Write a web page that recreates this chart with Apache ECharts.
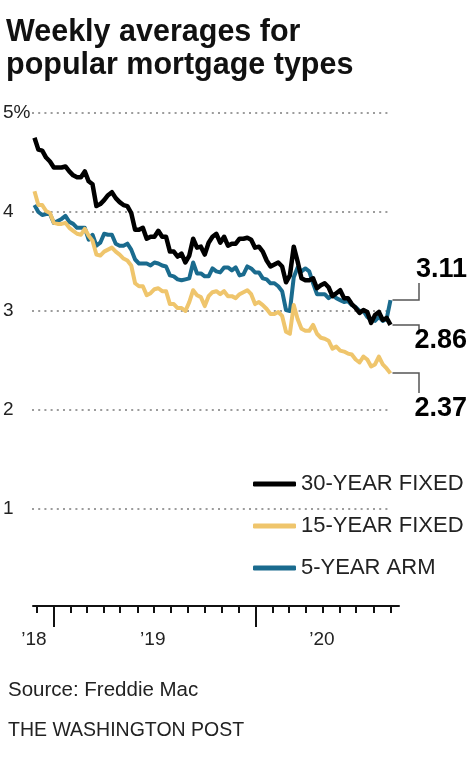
<!DOCTYPE html>
<html>
<head>
<meta charset="utf-8">
<style>
  html, body { margin: 0; padding: 0; background: #fff; }
  #chart { width: 474px; height: 772px; }
</style>
<script src="https://cdn.jsdelivr.net/npm/echarts@6/dist/echarts.min.js"></script>
</head>
<body>
<div id="chart"></div>
<script>
// ---- Data (Freddie Mac weekly averages, Dec 6 2018 – Sep 10 2020) ----
const firstWeek = '2018-12-06';
const seriesNames = ['30-YEAR FIXED', '15-YEAR FIXED', '5-YEAR ARM'];

const fixed30 = [
  4.75, 4.63, 4.62, 4.55,
  4.51, 4.45, 4.45, 4.45, 4.46, 4.41, 4.37, 4.35, 4.35, 4.41, 4.31, 4.28, 4.06,
  4.08, 4.12, 4.17, 4.20, 4.14, 4.10, 4.07, 4.06, 3.99, 3.82, 3.82, 3.84, 3.73,
  3.75, 3.75, 3.81, 3.75, 3.75, 3.60, 3.60, 3.55, 3.58, 3.49, 3.56, 3.73, 3.64,
  3.65, 3.57, 3.69, 3.75, 3.78, 3.69, 3.75, 3.66, 3.68, 3.68, 3.73, 3.73, 3.74,
  3.72, 3.64, 3.65, 3.60, 3.51, 3.45, 3.47, 3.49, 3.45, 3.29, 3.36, 3.65, 3.50,
  3.33, 3.31, 3.31, 3.33, 3.23, 3.26, 3.28, 3.24, 3.15, 3.18, 3.21, 3.13, 3.13,
  3.07, 3.03, 2.98, 3.01, 2.99, 2.88, 2.96, 2.99, 2.91, 2.93, 2.86
];
const fixed15 = [
  4.21, 4.07, 4.07, 4.01,
  3.99, 3.89, 3.88, 3.88, 3.89, 3.84, 3.81, 3.78, 3.77, 3.83, 3.76, 3.71, 3.57,
  3.56, 3.60, 3.62, 3.64, 3.60, 3.57, 3.53, 3.51, 3.46, 3.28, 3.25, 3.25, 3.16,
  3.18, 3.22, 3.23, 3.20, 3.20, 3.07, 3.07, 3.03, 3.03, 3.00, 3.09, 3.21, 3.16,
  3.14, 3.05, 3.15, 3.19, 3.20, 3.17, 3.20, 3.15, 3.15, 3.13, 3.17, 3.19, 3.21,
  3.17, 3.07, 3.09, 3.06, 3.02, 2.97, 2.97, 2.99, 2.95, 2.79, 2.77, 3.06, 2.92,
  2.82, 2.80, 2.80, 2.86, 2.77, 2.73, 2.72, 2.70, 2.62, 2.64, 2.60, 2.59, 2.57,
  2.56, 2.51, 2.48, 2.54, 2.51, 2.44, 2.46, 2.54, 2.46, 2.42, 2.37
];
const arm5 = [
  4.07, 4.00, 3.97, 3.98,
  3.98, 3.89, 3.91, 3.93, 3.96, 3.90, 3.88, 3.84, 3.84, 3.84, 3.72, 3.77, 3.66,
  3.69, 3.78, 3.77, 3.77, 3.68, 3.66, 3.66, 3.68, 3.62, 3.52, 3.48, 3.48, 3.48,
  3.46, 3.49, 3.48, 3.46, 3.45, 3.36, 3.35, 3.32, 3.31, 3.32, 3.33, 3.49, 3.38,
  3.38, 3.35, 3.35, 3.43, 3.40, 3.39, 3.44, 3.44, 3.41, 3.44, 3.36, 3.37, 3.45,
  3.43, 3.39, 3.39, 3.33, 3.32, 3.28, 3.28, 3.25, 3.20, 3.01, 3.00, 3.34, 3.44,
  3.40, 3.43, 3.40, 3.28, 3.17, 3.17, 3.17, 3.13, 3.16, 3.13, 3.11, 3.09, 3.10,
  3.06, 3.04, 3.00, 3.00, 2.94, 2.91, 2.90, 2.94, 2.90, 2.92, 3.11
];

// axis ticks (monthly) and year labels
const minorTickDates = [
  '2018-12-10', '2019-01-10', '2019-02-10', '2019-03-10', '2019-04-10', '2019-05-10',
  '2019-06-10', '2019-07-10', '2019-08-10', '2019-09-10', '2019-10-10', '2019-11-10',
  '2019-12-10', '2020-01-10', '2020-02-10', '2020-03-10', '2020-04-10', '2020-05-10',
  '2020-06-10', '2020-07-10', '2020-08-10', '2020-09-10'
];
const majorTickDates = ['2019-01-10', '2020-01-10'];
const yearLabels = ['\u201918', '\u201919', '\u201920'];
const yearLabelDates = ['2018-12-05', '2019-07-08', '2020-05-09'];

const colors = ['#000000', '#efc56c', '#1a6b8e'];
const FONT = 'Liberation Sans';

// ---- Build (x in days since first week) ----
const DAY = 86400000;
const t0 = new Date(firstWeek).getTime();
const dayOf = s => Math.round((new Date(s).getTime() - t0) / DAY);
const weekDays = fixed30.map((_, i) => i * 7);
const xMin = -2.7;
const xMax = 659.4;

const chart = echarts.init(document.getElementById('chart'), null, { renderer: 'canvas' });

const mk = arr => arr.map((v, i) => [weekDays[i], v]);
const labelDays = yearLabelDates.map(dayOf);

const option = {
  animation: false,
  backgroundColor: '#ffffff',
  textStyle: { fontFamily: FONT },
  title: [
    {
      text: 'Weekly averages for\npopular mortgage types',
      left: 6, top: 16, padding: 0,
      textStyle: { fontFamily: FONT, fontWeight: 'bold', fontSize: 30.5, lineHeight: 33, color: '#111' }
    },
    {
      text: 'Source: Freddie Mac',
      left: 8, top: 680, padding: 0,
      textStyle: { fontFamily: FONT, fontWeight: 'normal', fontSize: 20.5, lineHeight: 21, color: '#222' }
    },
    {
      text: 'THE WASHINGTON POST',
      left: 8, top: 721, padding: 0,
      textStyle: { fontFamily: FONT, fontWeight: 'normal', fontSize: 19.5, lineHeight: 20, color: '#222' }
    }
  ],
  legend: {
    orient: 'vertical',
    left: 253, top: 473, padding: 0,
    itemWidth: 43, itemHeight: 5,
    itemGap: 20,
    icon: 'roundRect',
    data: seriesNames,
    textStyle: { fontFamily: FONT, fontSize: 22, lineHeight: 22, color: '#222' }
  },
  grid: [
    { left: 33, right: 75, top: 113, bottom: 164 },
    { left: 32, width: 356, top: 113, bottom: 263 }
  ],
  xAxis: [
    {
      type: 'value', gridIndex: 0, min: xMin, max: xMax, offset: -2,
      axisLine: { show: true, lineStyle: { color: '#111', width: 2 } },
      axisTick: { show: true, length: 7, lineStyle: { color: '#111', width: 2 },
                  customValues: minorTickDates.map(dayOf) },
      axisLabel: { show: false },
      splitLine: { show: false }
    },
    {
      type: 'value', gridIndex: 0, min: xMin, max: xMax, offset: -2, position: 'bottom',
      axisLine: { show: false },
      axisTick: { show: true, length: 21, lineStyle: { color: '#111', width: 2 },
                  customValues: majorTickDates.map(dayOf) },
      axisLabel: {
        show: true, margin: 24, fontFamily: FONT, fontSize: 19, color: '#222',
        customValues: labelDays,
        formatter: v => {
          let best = 0, bd = Infinity;
          labelDays.forEach((t, i) => { const d = Math.abs(t - v); if (d < bd) { bd = d; best = i; } });
          return yearLabels[best];
        },
        showMinLabel: true, showMaxLabel: true, hideOverlap: false
      },
      splitLine: { show: false }
    },
    {
      type: 'value', gridIndex: 1, min: 0, max: 1, show: false
    }
  ],
  yAxis: [
    { type: 'value', gridIndex: 0, min: 0, max: 5, show: false },
    {
      type: 'value', gridIndex: 1, min: 1, max: 5, interval: 1,
      axisLine: { show: false }, axisTick: { show: false },
      axisLabel: {
        align: 'left', margin: 29, fontFamily: FONT, fontSize: 19, color: '#222',
        formatter: v => (v === 5 ? '5%' : String(v))
      },
      splitLine: { show: true, lineStyle: { color: '#9c9c9c', width: 2, type: [2, 4.2] } }
    }
  ],
  series: [
    {
      name: seriesNames[2], type: 'line', xAxisIndex: 0, yAxisIndex: 0,
      data: mk(arm5), showSymbol: false, symbol: 'none', z: 3,
      itemStyle: { color: colors[2] },
      lineStyle: { color: colors[2], width: 4, join: 'round' }
    },
    {
      name: seriesNames[1], type: 'line', xAxisIndex: 0, yAxisIndex: 0,
      data: mk(fixed15), showSymbol: false, symbol: 'none', z: 4,
      itemStyle: { color: colors[1] },
      lineStyle: { color: colors[1], width: 4, join: 'round' }
    },
    {
      name: seriesNames[0], type: 'line', xAxisIndex: 0, yAxisIndex: 0,
      data: mk(fixed30), showSymbol: false, symbol: 'none', z: 5,
      itemStyle: { color: colors[0] },
      lineStyle: { color: colors[0], width: 4.5, join: 'round' }
    }
  ]
};
chart.setOption(option);

// ---- End-value callouts, anchored to the last data points ----
const last = weekDays.length - 1;
const callouts = [
  { arr: arm5, labelY: 270, vEnd: 283 },
  { arr: fixed30, labelY: 341, vEnd: 330 },
  { arr: fixed15, labelY: 409, vEnd: 393 }
];
const elbowX = 419;
const graphics = [];
callouts.forEach(c => {
  const p = chart.convertToPixel({ xAxisIndex: 0, yAxisIndex: 0 }, [weekDays[last], c.arr[last]]);
  const sx = p[0] + 2, sy = Math.round(p[1]);
  graphics.push({
    type: 'polyline', silent: true, z: 10,
    shape: { points: [[sx, sy], [elbowX, sy], [elbowX, c.vEnd]] },
    style: { stroke: '#555', lineWidth: 1.5, fill: null }
  });
  graphics.push({
    type: 'text', silent: true, z: 10,
    style: {
      text: c.arr[last].toFixed(2), x: 467, y: c.labelY,
      align: 'right', verticalAlign: 'middle',
      font: 'bold 27px "' + FONT + '"', fill: '#000'
    }
  });
});
chart.setOption({ graphic: graphics });
</script>
</body>
</html>
